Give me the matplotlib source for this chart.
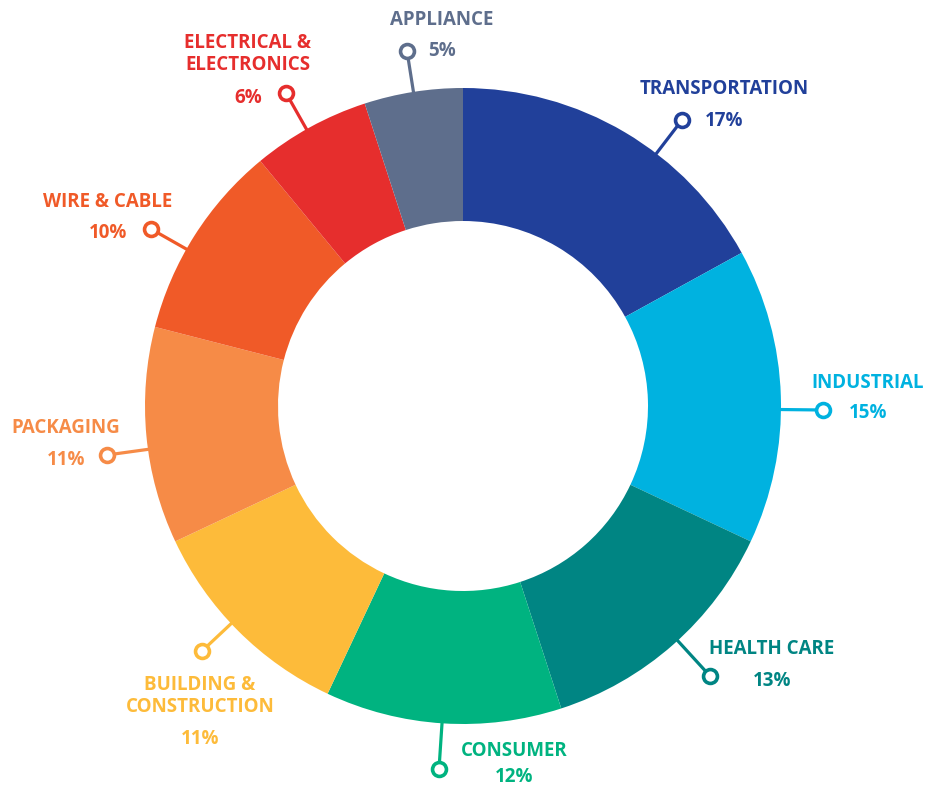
import matplotlib.pyplot as plt

# 資料
類別 = ['TRANSPORTATION', 'INDUSTRIAL', 'HEALTH CARE', 'CONSUMER',
      'BUILDING &\nCONSTRUCTION', 'PACKAGING', 'WIRE & CABLE',
      'ELECTRICAL &\nELECTRONICS', 'APPLIANCE']
百分比 = [17, 15, 13, 12, 11, 11, 10, 6, 5]
顏色 = ['#21409A', '#00B2E0', '#008583', '#00B380', '#FDBB3A',
      '#F68B47', '#F05A28', '#E62E2D', '#5E6E8C']

# 版面 (像素座標, y 由上往下)
W, H = 942, 789
cx, cy = 463, 406
R_out, R_in = 318, 185
# 小圓點位置, 標籤中心, 百分比位置
圓點 = [(682, 120), (823, 410), (710, 676), (439, 769), (202, 651),
      (107, 455), (151, 229), (286, 93), (407, 51)]
標籤位置 = [(724, 86), (868, 380), (772, 647), (514, 748), (200, 693.5),
        (66, 425), (108, 199), (248, 51.5), (442, 17)]
百分比位置 = [(724, 118), (868, 410), (772, 678), (514, 775), (200, 736),
         (66, 457), (108, 230), (248, 95), (442, 48)]
偏移 = 2.5   # 文字往下微調

plt.rcParams['font.family'] = ['Open Sans', 'DejaVu Sans']

fig = plt.figure(figsize=(W / 100, H / 100), dpi=100)
ax = fig.add_axes([0, 0, 1, 1])

ax.pie(百分比, colors=顏色, startangle=90, counterclock=False,
       radius=R_out, center=(cx, H - cy),
       wedgeprops=dict(width=R_out - R_in, linewidth=0))

for i in range(len(類別)):
    px, py = 圓點[i]
    dx, dy = px - cx, py - cy
    d = (dx ** 2 + dy ** 2) ** 0.5
    sx, sy = cx + dx / d * (R_out - 8), cy + dy / d * (R_out - 8)
    ax.plot([sx, px], [H - sy, H - py], color=顏色[i], lw=2.3,
            solid_capstyle='butt', zorder=3)
    ax.plot(px, H - py, 'o', ms=10, mfc='white', mec=顏色[i], mew=2.6,
            zorder=4)
    tx, ty = 標籤位置[i]
    ax.text(tx, H - ty - 偏移, 類別[i], color=顏色[i], fontsize=13.5,
            fontweight='bold', ha='center', va='center', linespacing=1.1)
    qx, qy = 百分比位置[i]
    ax.text(qx, H - qy - 偏移, f'{百分比[i]}%', color=顏色[i], fontsize=13.5,
            fontweight='bold', ha='center', va='center')

ax.set_xlim(0, W)
ax.set_ylim(0, H)
ax.set_aspect('equal')
ax.axis('off')

fig.savefig('out.png', dpi=100)
